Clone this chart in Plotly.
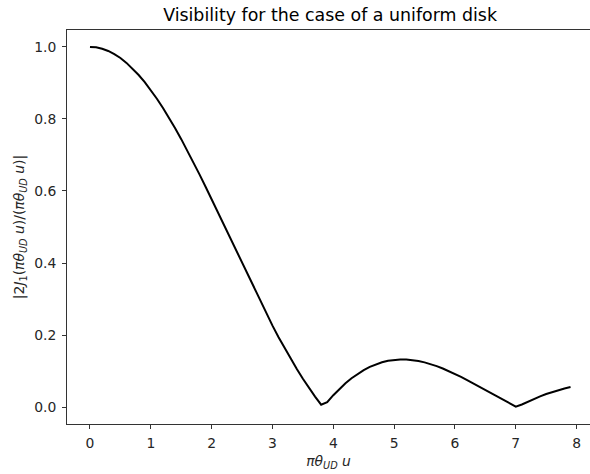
import plotly.graph_objects as go

x_vals = [0.0, 0.1, 0.2, 0.3, 0.4, 0.5, 0.6, 0.7, 0.8, 0.9,
          1.0, 1.1, 1.2, 1.3, 1.4, 1.5, 1.6, 1.7, 1.8, 1.9,
          2.0, 2.1, 2.2, 2.3, 2.4, 2.5, 2.6, 2.7, 2.8, 2.9,
          3.0, 3.1, 3.2, 3.3, 3.4, 3.5, 3.6, 3.7, 3.8, 3.9,
          4.0, 4.1, 4.2, 4.3, 4.4, 4.5, 4.6, 4.7, 4.8, 4.9,
          5.0, 5.1, 5.2, 5.3, 5.4, 5.5, 5.6, 5.7, 5.8, 5.9,
          6.0, 6.1, 6.2, 6.3, 6.4, 6.5, 6.6, 6.7, 6.8, 6.9,
          7.0, 7.1, 7.2, 7.3, 7.4, 7.5, 7.6, 7.7, 7.8, 7.9]

visibility = [1.0, 0.9988, 0.995, 0.9888, 0.980, 0.9692, 0.9557, 0.940, 0.922, 0.902,
              0.8802, 0.8562, 0.8305, 0.8031, 0.7741, 0.7439, 0.7124, 0.6798, 0.6461, 0.6118,
              0.5767, 0.5412, 0.5055, 0.4695, 0.4335, 0.3977, 0.3622, 0.3271, 0.2926, 0.2589,
              0.2261, 0.1941, 0.1633, 0.1338, 0.1054, 0.0785, 0.0531, 0.0291, 0.0067, 0.0139,
              0.0330, 0.0504, 0.0660, 0.0800, 0.0922, 0.1027, 0.1116, 0.1188, 0.1244, 0.1284,
              0.1310, 0.1322, 0.1320, 0.1306, 0.1279, 0.1241, 0.1194, 0.1137, 0.1072, 0.1000,
              0.0922, 0.0839, 0.0751, 0.0661, 0.0568, 0.0473, 0.0379, 0.0284, 0.0192, 0.0101,
              0.0013, 0.0071, 0.0151, 0.0226, 0.0296, 0.0361, 0.0419, 0.0471, 0.0516, 0.0555]

x_ticks = [0, 1, 2, 3, 4, 5, 6, 7, 8]
y_ticks = [0.0, 0.2, 0.4, 0.6, 0.8, 1.0]
y_tick_text = ["0.0", "0.2", "0.4", "0.6", "0.8", "1.0"]

font_family = "DejaVu Sans"

fig = go.Figure()
fig.add_trace(go.Scatter(x=x_vals, y=visibility, mode="lines",
                         line=dict(color="black", width=2), showlegend=False))

fig.update_layout(
    width=590, height=474,
    margin=dict(l=67, r=0, t=30, b=50),
    plot_bgcolor="white", paper_bgcolor="white",
    font=dict(family=font_family, size=13.9, color="#262626"),
    title=dict(text="Visibility for the case of a uniform disk",
               x=0.503, xref="paper", xanchor="center",
               y=1 - 15 / 474, yref="container", yanchor="middle",
               font=dict(family=font_family, size=17.4, color="black")),
    xaxis=dict(range=[-0.378, 8.22], tickvals=x_ticks, ticks="outside", ticklen=4,
               tickwidth=1, tickcolor="#333", showline=True, linecolor="#333", linewidth=1,
               mirror=True, showgrid=False, zeroline=False,
               ticklabelstandoff=2,
               tickfont=dict(size=13.9),
               title=dict(text="<i>πθ<sub>UD</sub> u</i>", standoff=6,
                          font=dict(size=13.9))),
    yaxis=dict(range=[-0.047, 1.047], tickvals=y_ticks, ticktext=y_tick_text,
               ticks="outside", ticklen=4, tickwidth=1, tickcolor="#333",
               showline=True, linecolor="#333", linewidth=1, mirror=False,
               ticklabelstandoff=3,
               showgrid=False, zeroline=False, tickfont=dict(size=13.9),
               title=dict(text="|2<i>J</i><sub>1</sub>(<i>πθ<sub>UD</sub> u</i>)/(<i>πθ<sub>UD</sub> u</i>)|",
                          standoff=6, font=dict(size=13.9))),
)

fig.write_html("out.html")
